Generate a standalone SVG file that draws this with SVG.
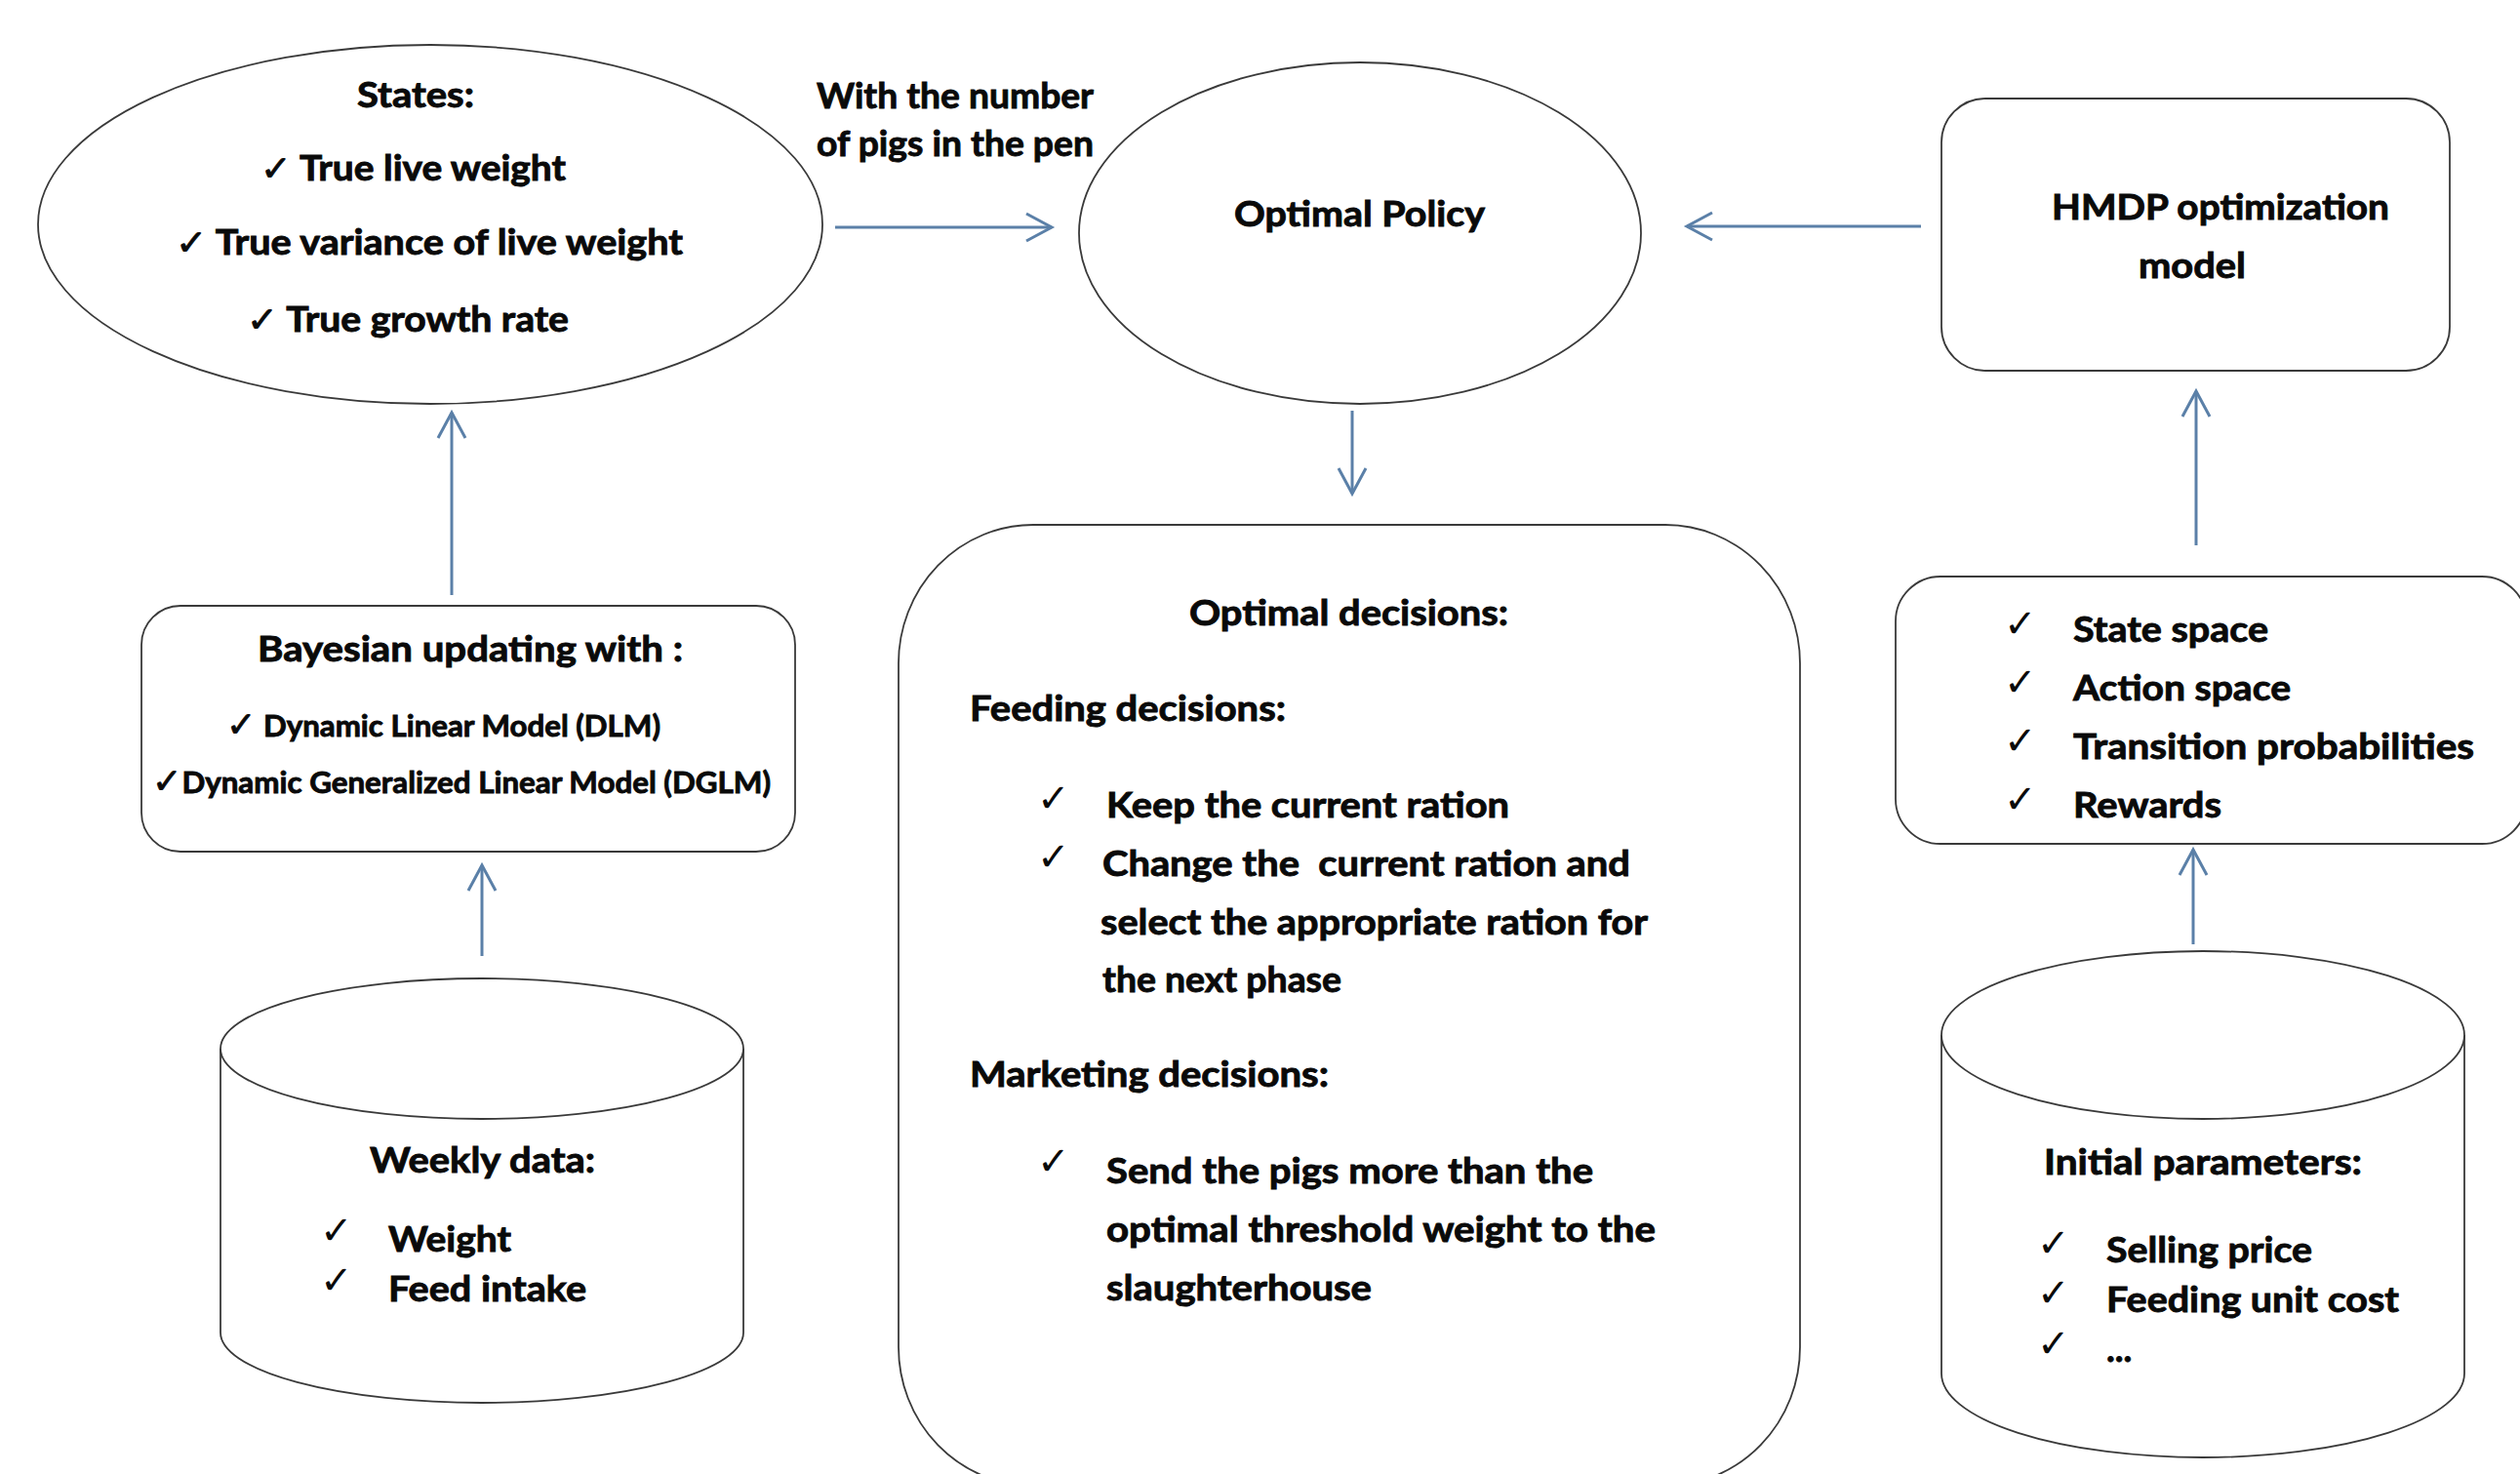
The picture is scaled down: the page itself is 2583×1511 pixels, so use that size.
<svg xmlns="http://www.w3.org/2000/svg" width="2583" height="1511" viewBox="0 0 2583 1511">
<style>
.shape{fill:#fff;stroke:#3a3a3a;stroke-width:1.8}
.t{font-family:Lato,"Liberation Sans","DejaVu Sans",sans-serif;font-weight:700;font-size:37px;fill:#0a0a0a;stroke:#0a0a0a;stroke-width:0.9px}
.s{font-size:31px}
.ck{font-family:"DejaVu Sans",sans-serif;font-weight:400;font-size:40px;fill:#0a0a0a}
.ci{font-family:"DejaVu Sans",sans-serif;font-weight:400;font-size:36px}
.conn{stroke:#5b80a8;stroke-width:3;fill:none}
</style>
<defs>
<marker id="arr" markerWidth="40" markerHeight="40" viewBox="-30 -20 40 40" refX="0" refY="0" orient="auto" markerUnits="userSpaceOnUse">
<path d="M-26,-14 L0,0 L-26,14" fill="none" stroke="#5b80a8" stroke-width="3"/>
</marker>
</defs>
<rect width="2583" height="1511" fill="#fff"/>

<g id="connectors">
<line class="conn" x1="856" y1="233" x2="1078" y2="233" marker-end="url(#arr)"/>
<line class="conn" x1="1969" y1="232" x2="1729" y2="232" marker-end="url(#arr)"/>
<line class="conn" x1="1386" y1="421" x2="1386" y2="506" marker-end="url(#arr)"/>
<line class="conn" x1="463" y1="610" x2="463" y2="423" marker-end="url(#arr)"/>
<line class="conn" x1="494" y1="980" x2="494" y2="887" marker-end="url(#arr)"/>
<line class="conn" x1="2251" y1="559" x2="2251" y2="401" marker-end="url(#arr)"/>
<line class="conn" x1="2248" y1="968" x2="2248" y2="871" marker-end="url(#arr)"/>
</g>

<g id="states">
<ellipse class="shape" cx="441" cy="230" rx="402" ry="184"/>
<text class="t" x="366" y="110" textLength="120" lengthAdjust="spacingAndGlyphs">States:</text>
<text class="t" x="267" y="185" textLength="313" lengthAdjust="spacingAndGlyphs"><tspan class="ci">✓</tspan> True live weight</text>
<text class="t" x="180" y="261" textLength="520" lengthAdjust="spacingAndGlyphs"><tspan class="ci">✓</tspan> True variance of live weight</text>
<text class="t" x="253" y="340" textLength="330" lengthAdjust="spacingAndGlyphs"><tspan class="ci">✓</tspan> True growth rate</text>
</g>

<g id="label-pigs">
<text class="t" x="837" y="111" textLength="284" lengthAdjust="spacingAndGlyphs">With the number</text>
<text class="t" x="837" y="160" textLength="284" lengthAdjust="spacingAndGlyphs">of pigs in the pen</text>
</g>

<g id="optimal-policy">
<ellipse class="shape" cx="1394" cy="239" rx="288" ry="175"/>
<text class="t" x="1265" y="232" textLength="257" lengthAdjust="spacingAndGlyphs">Optimal Policy</text>
</g>

<g id="hmdp">
<rect class="shape" x="1990" y="101" width="521" height="279" rx="45"/>
<text class="t" x="2103" y="225" textLength="346" lengthAdjust="spacingAndGlyphs">HMDP optimization</text>
<text class="t" x="2192" y="285" textLength="110" lengthAdjust="spacingAndGlyphs">model</text>
</g>

<g id="bayesian">
<rect class="shape" x="145" y="621" width="670" height="252" rx="40"/>
<text class="t" x="264" y="678" textLength="436" lengthAdjust="spacingAndGlyphs">Bayesian updating with :</text>
<text class="t s" x="232" y="755" textLength="445" lengthAdjust="spacingAndGlyphs"><tspan class="ci">✓</tspan> Dynamic Linear Model (DLM)</text>
<text class="t s" x="156" y="813" textLength="634" lengthAdjust="spacingAndGlyphs"><tspan class="ci">✓</tspan>Dynamic Generalized Linear Model (DGLM)</text>
</g>

<g id="optimal-decisions">
<rect class="shape" x="921" y="538" width="924" height="985" rx="138" ry="142"/>
<text class="t" x="1219" y="641" textLength="327" lengthAdjust="spacingAndGlyphs">Optimal decisions:</text>
<text class="t" x="994" y="739" textLength="324" lengthAdjust="spacingAndGlyphs">Feeding decisions:</text>
<text class="ck" x="1063" y="832">✓</text>
<text class="t" x="1134" y="838" textLength="413" lengthAdjust="spacingAndGlyphs">Keep the current ration</text>
<text class="ck" x="1063" y="892">✓</text>
<text class="t" x="1130" y="898" textLength="541" lengthAdjust="spacingAndGlyphs" style="white-space:pre">Change the  current ration and</text>
<text class="t" x="1128" y="958" textLength="561" lengthAdjust="spacingAndGlyphs">select the appropriate ration for</text>
<text class="t" x="1130" y="1017" textLength="245" lengthAdjust="spacingAndGlyphs">the next phase</text>
<text class="t" x="994" y="1114" textLength="368" lengthAdjust="spacingAndGlyphs">Marketing decisions:</text>
<text class="ck" x="1063" y="1204">✓</text>
<text class="t" x="1134" y="1213" textLength="499" lengthAdjust="spacingAndGlyphs">Send the pigs more than the</text>
<text class="t" x="1134" y="1273" textLength="563" lengthAdjust="spacingAndGlyphs">optimal threshold weight to the</text>
<text class="t" x="1134" y="1333" textLength="272" lengthAdjust="spacingAndGlyphs">slaughterhouse</text>
</g>

<g id="mdp-elements">
<rect class="shape" x="1943" y="591" width="647" height="274" rx="46"/>
<text class="ck" x="2054" y="653">✓</text>
<text class="t" x="2125" y="658" textLength="200" lengthAdjust="spacingAndGlyphs">State space</text>
<text class="ck" x="2054" y="713">✓</text>
<text class="t" x="2125" y="718" textLength="223" lengthAdjust="spacingAndGlyphs">Action space</text>
<text class="ck" x="2054" y="773">✓</text>
<text class="t" x="2125" y="778" textLength="411" lengthAdjust="spacingAndGlyphs">Transition probabilities</text>
<text class="ck" x="2054" y="833">✓</text>
<text class="t" x="2125" y="838" textLength="152" lengthAdjust="spacingAndGlyphs">Rewards</text>
</g>

<g id="weekly-data">
<path class="shape" d="M226,1075 L226,1366 A268,72 0 0 0 762,1366 L762,1075"/>
<ellipse class="shape" cx="494" cy="1075" rx="268" ry="72"/>
<text class="t" x="379" y="1202" textLength="231" lengthAdjust="spacingAndGlyphs">Weekly data:</text>
<text class="ck" x="328" y="1275">✓</text>
<text class="t" x="398" y="1283" textLength="126" lengthAdjust="spacingAndGlyphs">Weight</text>
<text class="ck" x="328" y="1326">✓</text>
<text class="t" x="398" y="1334" textLength="203" lengthAdjust="spacingAndGlyphs">Feed intake</text>
</g>

<g id="initial-parameters">
<path class="shape" d="M1990,1061 L1990,1408 A268,86 0 0 0 2526,1408 L2526,1061"/>
<ellipse class="shape" cx="2258" cy="1061" rx="268" ry="86"/>
<text class="t" x="2095" y="1204" textLength="326" lengthAdjust="spacingAndGlyphs">Initial parameters:</text>
<text class="ck" x="2088" y="1288">✓</text>
<text class="t" x="2159" y="1294" textLength="211" lengthAdjust="spacingAndGlyphs">Selling price</text>
<text class="ck" x="2088" y="1339">✓</text>
<text class="t" x="2159" y="1345" textLength="300" lengthAdjust="spacingAndGlyphs">Feeding unit cost</text>
<text class="ck" x="2088" y="1391">✓</text>
<text class="t" x="2159" y="1396">...</text>
</g>
</svg>
